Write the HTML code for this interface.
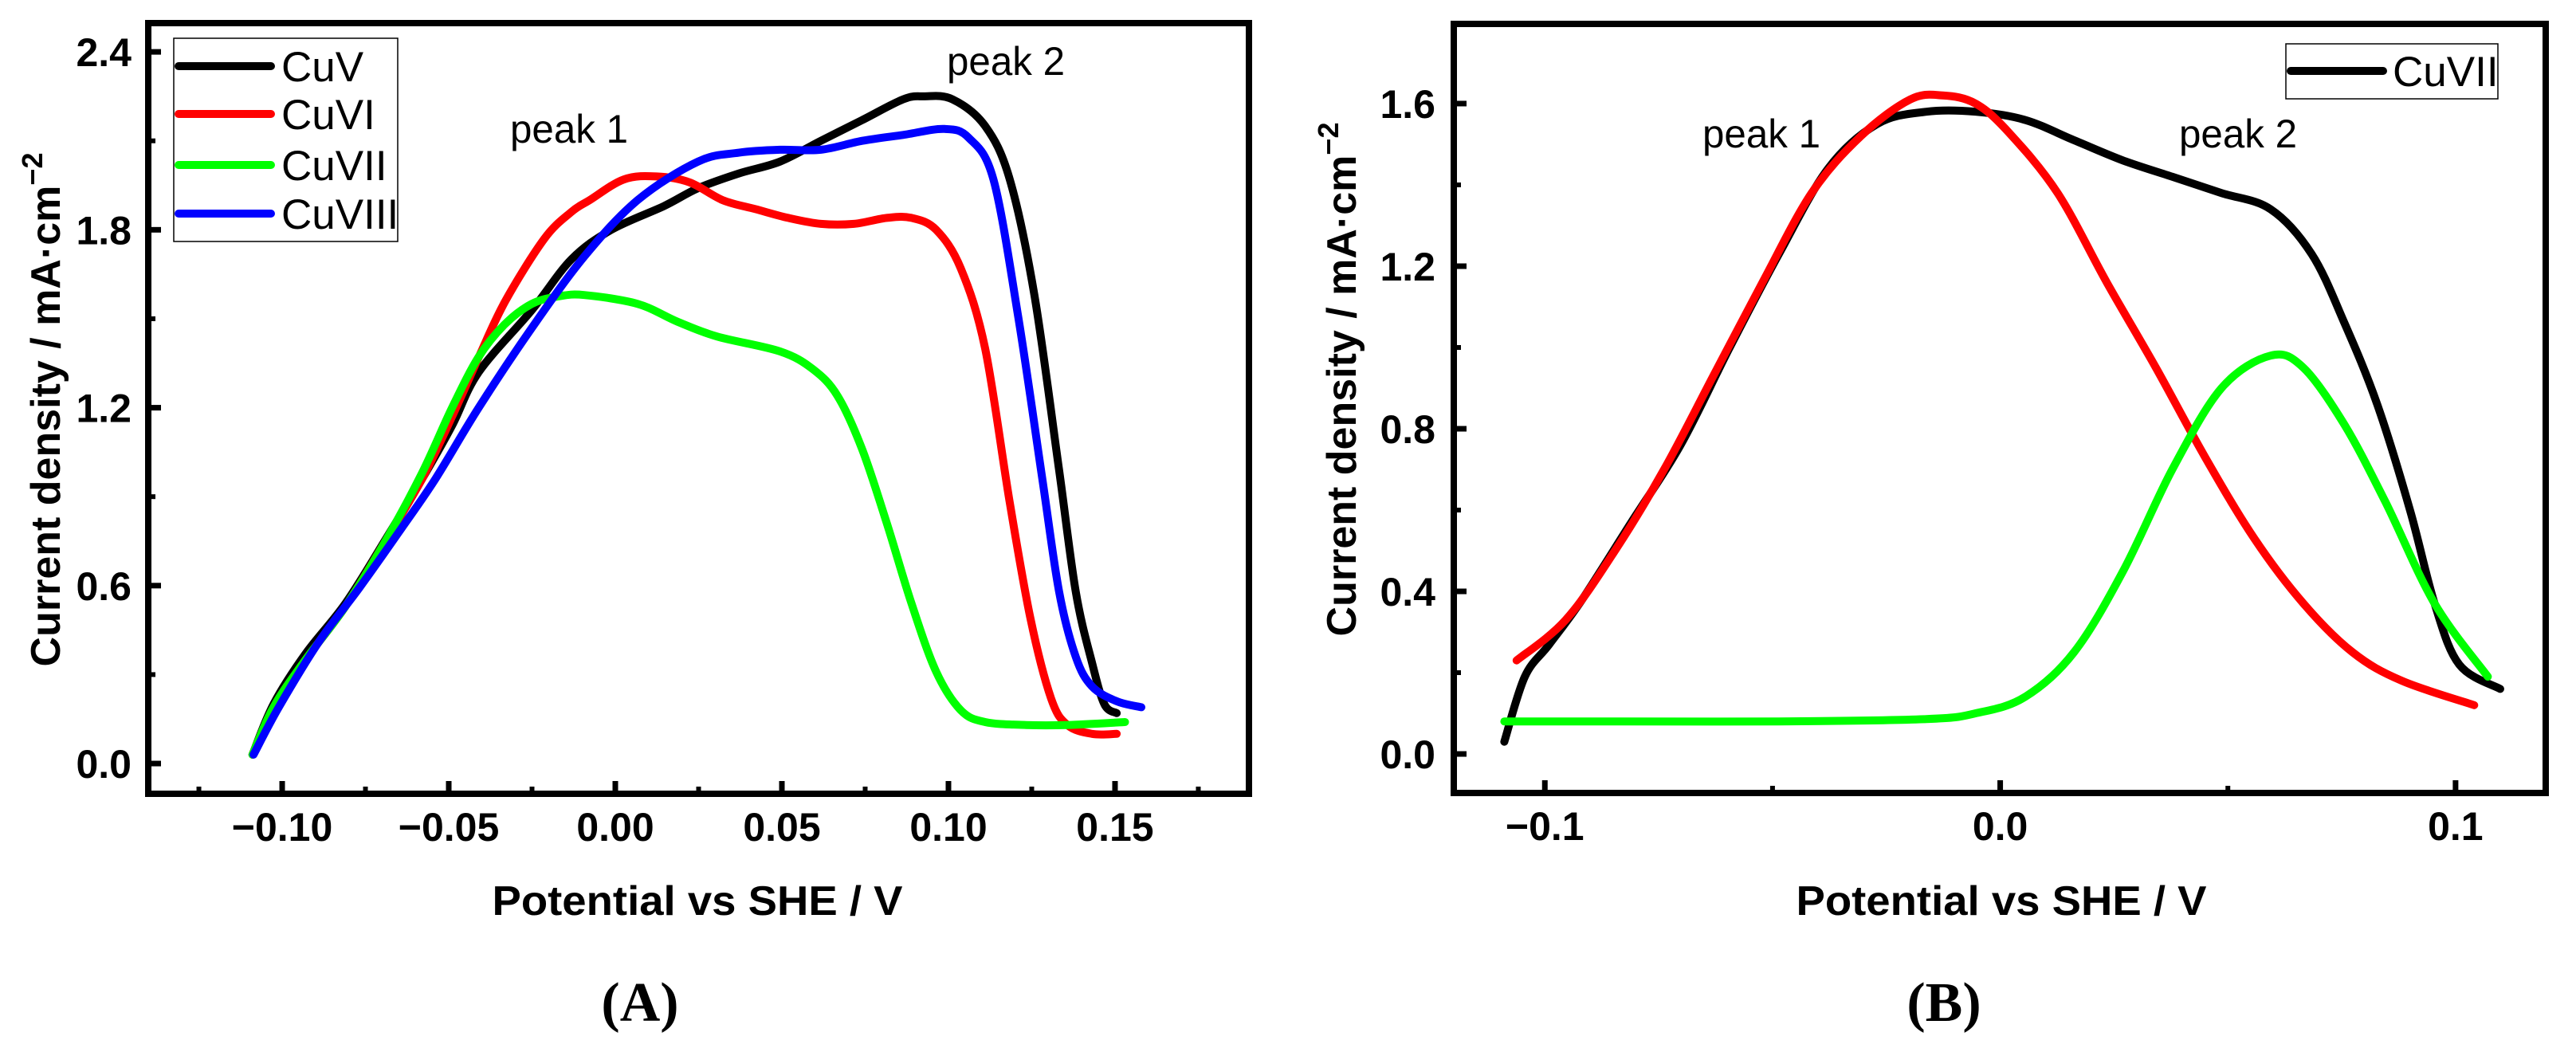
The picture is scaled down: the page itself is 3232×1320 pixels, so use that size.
<!DOCTYPE html>
<html><head><meta charset="utf-8"><style>
html,body{margin:0;padding:0;background:#fff;}
svg{display:block;}
text{font-family:"Liberation Sans",sans-serif;}
</style></head><body>
<svg id="fig" width="3232" height="1320" viewBox="0 0 3232 1320" xmlns="http://www.w3.org/2000/svg">
<g id="panelA"></g>
<g id="panelB"></g>
<text x="803" y="1281" text-anchor="middle" style="font-family:'Liberation Serif',serif;font-weight:bold;font-size:70px">(A)</text>
<text x="2439" y="1281" text-anchor="middle" style="font-family:'Liberation Serif',serif;font-weight:bold;font-size:70px">(B)</text>
</svg>
<script>
// ---- Panel A data ----
const aCuVx = [-0.1089,-0.1026,-0.0930,-0.0810,-0.0690,-0.0580,-0.0490,-0.0410,-0.0250,-0.0132,-0.0012,0.0146,0.0248,0.0371,0.0494,0.0617,0.0741,0.0864,0.0926,0.1012,0.1110,0.1184,0.1258,0.1332,0.1382,0.1431,0.1468,0.1505];
const aCuVy = [0.03,0.20,0.37,0.54,0.755,0.96,1.14,1.32,1.53,1.70,1.80,1.88,1.94,1.99,2.03,2.10,2.17,2.24,2.25,2.24,2.15,1.97,1.58,0.99,0.58,0.34,0.20,0.17];
const aCuVIx = [-0.1089,-0.1026,-0.0930,-0.0810,-0.0690,-0.0580,-0.0490,-0.0410,-0.0330,-0.0213,-0.0132,-0.0077,0.0026,0.0124,0.0223,0.0322,0.0420,0.0519,0.0617,0.0716,0.0815,0.0889,0.0963,0.1037,0.1110,0.1184,0.1246,0.1308,0.1357,0.1431,0.1505];
const aCuVIy = [0.03,0.19,0.35,0.53,0.75,0.96,1.17,1.37,1.56,1.77,1.86,1.90,1.97,1.98,1.96,1.90,1.87,1.84,1.82,1.82,1.84,1.84,1.80,1.67,1.40,0.88,0.49,0.22,0.13,0.10,0.10];
const aCuVIIx = [-0.1089,-0.1026,-0.0930,-0.0810,-0.0690,-0.0580,-0.0490,-0.0411,-0.0333,-0.0251,-0.0172,-0.0093,0.0067,0.0187,0.0306,0.0494,0.0593,0.0667,0.0741,0.0815,0.0889,0.0963,0.1037,0.1110,0.1233,0.1357,0.1530];
const aCuVIIy = [0.03,0.19,0.35,0.53,0.75,0.98,1.20,1.37,1.48,1.55,1.575,1.58,1.55,1.49,1.44,1.39,1.33,1.24,1.06,0.81,0.54,0.31,0.18,0.14,0.13,0.13,0.14];
const aCuVIIIx = [-0.1086,-0.1010,-0.0890,-0.0770,-0.0650,-0.0540,-0.0410,-0.0250,-0.0093,0.0067,0.0248,0.0371,0.0494,0.0617,0.0741,0.0864,0.0988,0.1061,0.1135,0.1209,0.1283,0.1332,0.1382,0.1431,0.1505,0.1579];
const aCuVIIIy = [0.03,0.19,0.41,0.59,0.78,0.96,1.20,1.47,1.71,1.90,2.03,2.06,2.07,2.07,2.10,2.12,2.14,2.11,1.97,1.51,0.95,0.58,0.36,0.26,0.21,0.19];
const aXTicks = [-0.10,-0.05,0.00,0.05,0.10,0.15];
const aXLabels = ["\u22120.10","\u22120.05","0.00","0.05","0.10","0.15"];
const aYTicks = [0.0,0.6,1.2,1.8,2.4];
const aYLabels = ["0.0","0.6","1.2","1.8","2.4"];
// ---- Panel B data ----
const bCuVIIx = [-0.1089,-0.1044,-0.0990,-0.0918,-0.0810,-0.0702,-0.0594,-0.0486,-0.0378,-0.0270,-0.0162,-0.0054,0.0054,0.0162,0.0270,0.0378,0.0486,0.0594,0.0684,0.0756,0.0828,0.0900,0.0954,0.1008,0.1098];
const bCuVIIy = [0.03,0.19,0.27,0.38,0.57,0.76,1.00,1.23,1.44,1.55,1.58,1.58,1.56,1.51,1.46,1.42,1.38,1.34,1.23,1.06,0.86,0.60,0.37,0.22,0.16];
const bPeak1x = [-0.1062,-0.0954,-0.0846,-0.0738,-0.0630,-0.0522,-0.0414,-0.0306,-0.0198,-0.0126,-0.0054,0.0018,0.0126,0.0234,0.0342,0.0450,0.0558,0.0666,0.0774,0.0882,0.1041];
const bPeak1y = [0.23,0.33,0.50,0.70,0.93,1.16,1.38,1.52,1.61,1.62,1.60,1.53,1.38,1.16,0.95,0.73,0.53,0.37,0.25,0.18,0.12];
const bPeak2x = [-0.1089,-0.0846,-0.0486,-0.0162,-0.0054,0.0054,0.0162,0.0270,0.0378,0.0486,0.0594,0.0666,0.0756,0.0846,0.0954,0.1071];
const bPeak2y = [0.08,0.08,0.08,0.086,0.10,0.14,0.25,0.45,0.70,0.90,0.98,0.95,0.81,0.62,0.37,0.19];
const bXTicks = [-0.1,0.0,0.1];
const bXLabels = ["\u22120.1","0.0","0.1"];
const bYTicks = [0.0,0.4,0.8,1.2,1.6];
const bYLabels = ["0.0","0.4","0.8","1.2","1.6"];

const NS="http://www.w3.org/2000/svg";
function mk(tag, parent, attrs){const e=document.createElementNS(NS,tag);for(const k in attrs)e.setAttribute(k,attrs[k]);parent.appendChild(e);return e;}
function smooth(pts){
  let d="M"+pts[0][0].toFixed(1)+","+pts[0][1].toFixed(1);
  for(let i=0;i<pts.length-1;i++){
    const p0=pts[Math.max(0,i-1)],p1=pts[i],p2=pts[i+1],p3=pts[Math.min(pts.length-1,i+2)];
    const c1x=p1[0]+(p2[0]-p0[0])/6,c1y=p1[1]+(p2[1]-p0[1])/6;
    const c2x=p2[0]-(p3[0]-p1[0])/6,c2y=p2[1]-(p3[1]-p1[1])/6;
    d+=" C"+c1x.toFixed(1)+","+c1y.toFixed(1)+" "+c2x.toFixed(1)+","+c2y.toFixed(1)+" "+p2[0].toFixed(1)+","+p2[1].toFixed(1);
  }
  return d;
}
function panel(g, box, xr, yr, xt, xl, xminor, yt, yl, yminor, series, ytitleX, ytitleY, xtitleX, ylabelRight){
  const sx=v=>box.l+(v-xr[0])/(xr[1]-xr[0])*(box.r-box.l);
  const sy=v=>box.b-(v-yr[0])/(yr[1]-yr[0])*(box.b-box.t);
  series.forEach(s=>{
    const pts=s.x.map((v,i)=>[sx(v),sy(s.y[i])]);
    const p=mk("path",g,{d:smooth(pts),fill:"none",stroke:s.c,"stroke-width":10,"stroke-linecap":"round","stroke-linejoin":"round"});
    
    
  });
  const fr=mk("rect",g,{x:box.l,y:box.t,width:box.r-box.l,height:box.b-box.t,fill:"none",stroke:"#000","stroke-width":8});
  
  
  xt.forEach((v,i)=>{
    const t=mk("line",g,{x1:sx(v),x2:sx(v),y1:box.b,y2:box.b-16,stroke:"#000","stroke-width":7});
    
    
    const lb=mk("text",g,{x:sx(v),y:box.b+59,"text-anchor":"middle","font-weight":"bold","font-size":50});
    lb.textContent=xl[i];
    
    
  });
  xminor.forEach(v=>{
    const t=mk("line",g,{x1:sx(v),x2:sx(v),y1:box.b,y2:box.b-9,stroke:"#000","stroke-width":6});
    
    
  });
  yt.forEach((v,i)=>{
    const t=mk("line",g,{x1:box.l,x2:box.l+16,y1:sy(v),y2:sy(v),stroke:"#000","stroke-width":7});
    
    
    const lb=mk("text",g,{x:ylabelRight,y:sy(v)+18,"text-anchor":"end","font-weight":"bold","font-size":50});
    lb.textContent=yl[i];
    
    
  });
  yminor.forEach(v=>{
    const t=mk("line",g,{x1:box.l,x2:box.l+9,y1:sy(v),y2:sy(v),stroke:"#000","stroke-width":6});
    
    
  });
  const xtl=mk("text",g,{x:xtitleX,y:1148,"text-anchor":"middle","font-weight":"bold","font-size":52,textLength:515,lengthAdjust:"spacingAndGlyphs"});
  xtl.textContent="Potential vs SHE / V";
  
  
  const ytl=mk("text",g,{x:0,y:0,"text-anchor":"middle","font-weight":"bold","font-size":52,transform:"translate("+(ytitleX+18)+","+ytitleY+") rotate(-90)"});
  ytl.innerHTML='Current density / mA\u00B7cm<tspan dy="-22" font-size="36">\u22122</tspan>';
  
  
  return {sx,sy};
}
const gA=document.getElementById("panelA");
panel(gA,{l:186,r:1567,t:29,b:996},[-0.1402,0.1902],[-0.102,2.497],aXTicks,aXLabels,[-0.125,-0.075,-0.025,0.025,0.075,0.125,0.175],aYTicks,aYLabels,[0.3,0.9,1.5,2.1],
 [{x:aCuVx,y:aCuVy,c:"#000000",name:"line-cuv"},{x:aCuVIx,y:aCuVIy,c:"#ff0000",name:"line-cuvi"},{x:aCuVIIx,y:aCuVIIy,c:"#00ff00",name:"line-cuvii"},{x:aCuVIIIx,y:aCuVIIIy,c:"#0000ff",name:"line-cuviii"}],
 57,514,875,165);
const gB=document.getElementById("panelB");
panel(gB,{l:1824,r:3194,t:30,b:995},[-0.12,0.1198],[-0.096,1.796],bXTicks,bXLabels,[-0.05,0.05],bYTicks,bYLabels,[0.2,0.6,1.0,1.4],
 [{x:bCuVIIx,y:bCuVIIy,c:"#000000",name:"line-cuvii-total"},{x:bPeak1x,y:bPeak1y,c:"#ff0000",name:"line-peak1-fit"},{x:bPeak2x,y:bPeak2y,c:"#00ff00",name:"line-peak2-fit"}],
 1683,476,2511,1801);

// Legend A
const legA=mk("g",gA,{});


const lbA=mk("rect",legA,{x:218,y:48,width:281,height:255,fill:"#fff",stroke:"#000","stroke-width":1.5});


const legNames=["CuV","CuVI","CuVII","CuVIII"];
const legColors=["#000000","#ff0000","#00ff00","#0000ff"];
const legY=[83,143,207,268];
legNames.forEach((n,i)=>{
  const l=mk("line",legA,{x1:224,x2:340,y1:legY[i],y2:legY[i],stroke:legColors[i],"stroke-width":10,"stroke-linecap":"round"});
  
  
  const t=mk("text",legA,{x:353,y:legY[i]+19,"font-size":53});
  t.textContent=n;
  
  
});
// Legend B
const legB=mk("g",gB,{});


const lbB=mk("rect",legB,{x:2868,y:55,width:266,height:69,fill:"#fff",stroke:"#000","stroke-width":1.5});


const lB=mk("line",legB,{x1:2874,x2:2990,y1:89,y2:89,stroke:"#000","stroke-width":10,"stroke-linecap":"round"});


const tB=mk("text",legB,{x:3002,y:108,"font-size":53});
tB.textContent="CuVII";


// Peak annotations
const ann=[[gA,640,179,"peak 1","peak-1-label-a"],[gA,1188,94,"peak 2","peak-2-label-a"],[gB,2136,185,"peak 1","peak-1-label-b"],[gB,2734,185,"peak 2","peak-2-label-b"]];
ann.forEach(a=>{
  const t=mk("text",a[0],{x:a[1],y:a[2],"font-size":50,textLength:148,lengthAdjust:"spacingAndGlyphs"});
  t.textContent=a[3];
  
  
});
</script>
</body></html>
